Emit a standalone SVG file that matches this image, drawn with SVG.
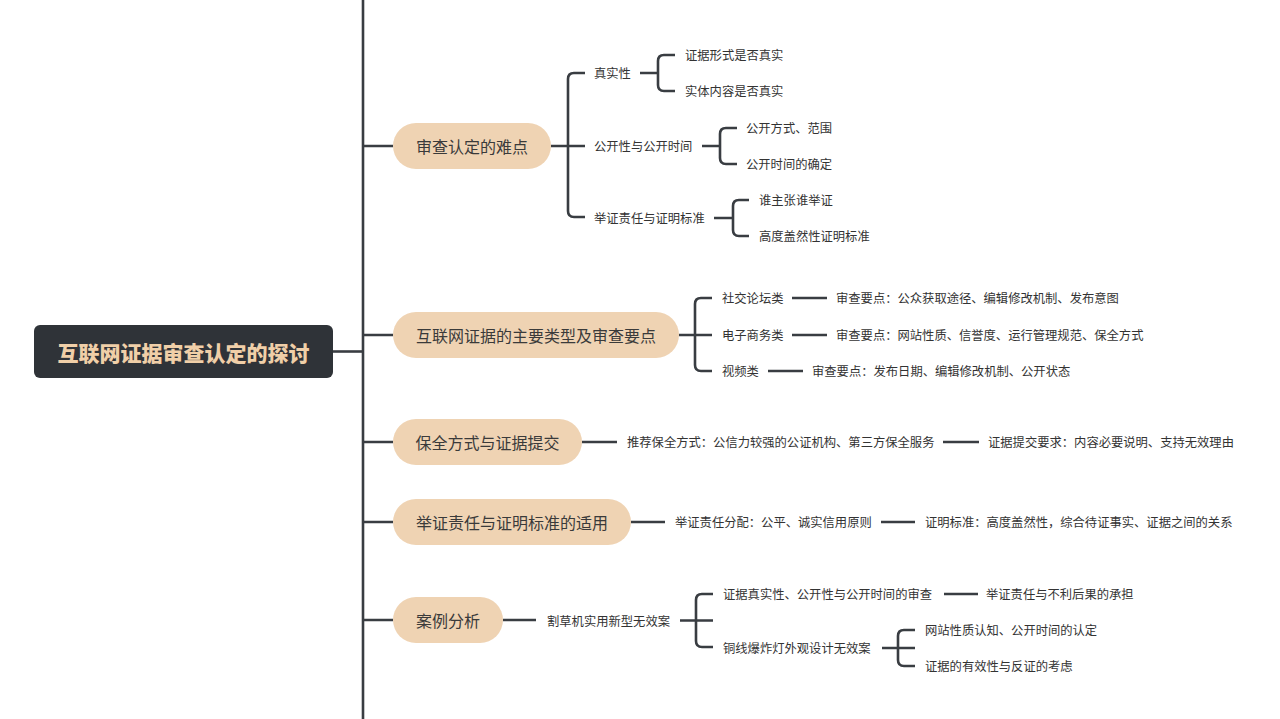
<svg xmlns="http://www.w3.org/2000/svg" width="1280" height="719" viewBox="0 0 1280 719">
<style>
.ln{fill:none;stroke:#393d42;stroke-width:2.6;stroke-linecap:butt;stroke-linejoin:round}
.t{font-family:"Noto Sans CJK SC","Microsoft YaHei",sans-serif;font-size:12.3px;fill:#333;dominant-baseline:central}
.pill{fill:#efd3b3}
.pt{font-family:"Noto Sans CJK SC","Microsoft YaHei",sans-serif;font-size:16px;fill:#3a3a3a;dominant-baseline:central;text-anchor:middle}
.root{fill:#2f3338}
.rt{font-family:"Noto Sans CJK SC","Microsoft YaHei",sans-serif;font-size:21px;font-weight:900;fill:#f0cfa8;dominant-baseline:central;text-anchor:middle}
</style>
<rect width="1280" height="719" fill="#ffffff"/>
<g id="connectors">
<path class="ln" d="M363,0 V719"/>
<path class="ln" d="M333,351.5 H363"/>
<path class="ln" d="M363,146 H393 M363,335 H393 M363,442 H393 M363,522 H393 M363,620 H393"/>
<path class="ln" d="M551,146 H585 M585,73 H574 Q568,73 568,79 V211 Q568,217 574,217 H585"/>
<path class="ln" d="M640,73 H658 M675,55 H664 Q658,55 658,61 V85 Q658,91 664,91 H675"/>
<path class="ln" d="M702,146 H720 M737,128 H726 Q720,128 720,134 V158 Q720,164 726,164 H737"/>
<path class="ln" d="M714,218 H733 M749,200 H739 Q733,200 733,206 V230 Q733,236 739,236 H749"/>
<path class="ln" d="M679,335 H712 M712,298 H701 Q695,298 695,304 V365 Q695,371 701,371 H712"/>
<path class="ln" d="M792,298 H827 M792,335 H827 M768,371 H803"/>
<path class="ln" d="M582,442 H617 M943,442 H979"/>
<path class="ln" d="M631,522 H665 M881,522 H915"/>
<path class="ln" d="M503,620 H536 M680,620.5 H713 M713,594 H702 Q696,594 696,600 V641 Q696,647 702,647 H713"/>
<path class="ln" d="M944,594 H978"/>
<path class="ln" d="M882,648 H915 M915,630 H904 Q898,630 898,636 V660 Q898,666 904,666 H915"/>
</g>
<g id="root">
<rect class="root" x="34" y="325" width="299" height="53" rx="6"/>
<text class="rt" x="183.5" y="352">互联网证据审查认定的探讨</text>
</g>
<g id="n1">
<rect class="pill" x="393" y="123" width="158" height="46" rx="23"/>
<text class="pt" x="472" y="146">审查认定的难点</text>
</g>
<g id="n1a"><text class="t" x="594" y="73">真实性</text></g>
<g id="n1a1"><text class="t" x="685" y="55">证据形式是否真实</text></g>
<g id="n1a2"><text class="t" x="685" y="91">实体内容是否真实</text></g>
<g id="n1b"><text class="t" x="594" y="146">公开性与公开时间</text></g>
<g id="n1b1"><text class="t" x="746" y="128">公开方式、范围</text></g>
<g id="n1b2"><text class="t" x="746" y="164">公开时间的确定</text></g>
<g id="n1c"><text class="t" x="594" y="218">举证责任与证明标准</text></g>
<g id="n1c1"><text class="t" x="759" y="200">谁主张谁举证</text></g>
<g id="n1c2"><text class="t" x="759" y="236">高度盖然性证明标准</text></g>
<g id="n2">
<rect class="pill" x="393" y="312" width="286" height="46" rx="23"/>
<text class="pt" x="536" y="335">互联网证据的主要类型及审查要点</text>
</g>
<g id="n2a"><text class="t" x="722" y="298">社交论坛类</text></g>
<g id="n2a1"><text class="t" x="836" y="298">审查要点：公众获取途径、编辑修改机制、发布意图</text></g>
<g id="n2b"><text class="t" x="722" y="335">电子商务类</text></g>
<g id="n2b1"><text class="t" x="836" y="335">审查要点：网站性质、信誉度、运行管理规范、保全方式</text></g>
<g id="n2c"><text class="t" x="722" y="371">视频类</text></g>
<g id="n2c1"><text class="t" x="812" y="371">审查要点：发布日期、编辑修改机制、公开状态</text></g>
<g id="n3">
<rect class="pill" x="393" y="419" width="189" height="46" rx="23"/>
<text class="pt" x="487.5" y="442">保全方式与证据提交</text>
</g>
<g id="n3a"><text class="t" x="627" y="442">推荐保全方式：公信力较强的公证机构、第三方保全服务</text></g>
<g id="n3b"><text class="t" x="988" y="442">证据提交要求：内容必要说明、支持无效理由</text></g>
<g id="n4">
<rect class="pill" x="393" y="499" width="238" height="46" rx="23"/>
<text class="pt" x="512" y="522">举证责任与证明标准的适用</text>
</g>
<g id="n4a"><text class="t" x="675" y="522">举证责任分配：公平、诚实信用原则</text></g>
<g id="n4b"><text class="t" x="925" y="522">证明标准：高度盖然性，综合待证事实、证据之间的关系</text></g>
<g id="n5">
<rect class="pill" x="393" y="597" width="110" height="46" rx="23"/>
<text class="pt" x="448" y="620">案例分析</text>
</g>
<g id="n5a"><text class="t" x="547" y="620.5">割草机实用新型无效案</text></g>
<g id="n5a1"><text class="t" x="723" y="594">证据真实性、公开性与公开时间的审查</text></g>
<g id="n5a1a"><text class="t" x="986" y="594">举证责任与不利后果的承担</text></g>
<g id="n5a2"><text class="t" x="723" y="648">铜线爆炸灯外观设计无效案</text></g>
<g id="n5a2a"><text class="t" x="925" y="630">网站性质认知、公开时间的认定</text></g>
<g id="n5a2b"><text class="t" x="925" y="666">证据的有效性与反证的考虑</text></g>
</svg>
